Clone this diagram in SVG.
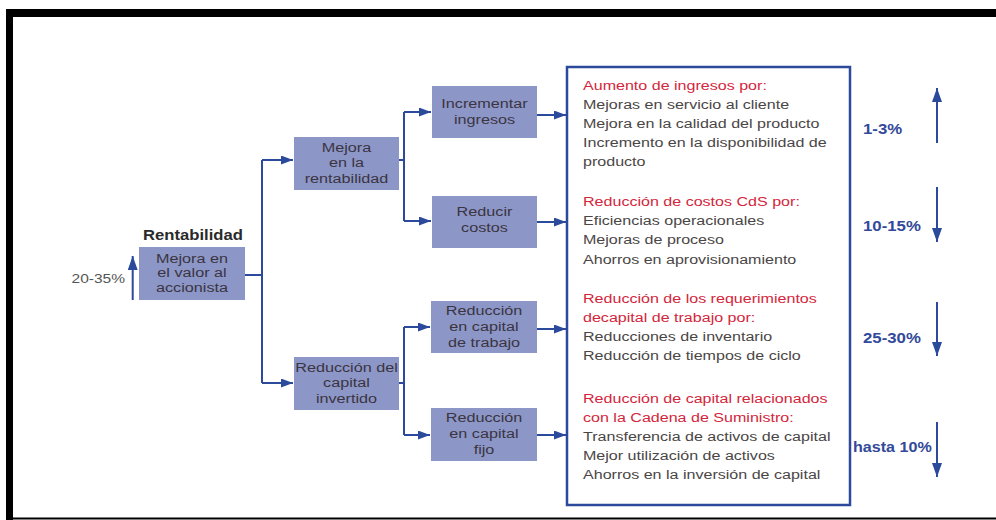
<svg xmlns="http://www.w3.org/2000/svg" width="996" height="520" viewBox="0 0 996 520">
<defs>
<style>
.frame{fill:#000}
.node rect{fill:#8c97c7}
.nt{font-family:"Liberation Sans",Arial,sans-serif;font-size:13.5px;fill:#3b3442;text-anchor:middle}
.conn{stroke:#2c4a9c;stroke-width:2;fill:none}
.bt{font-family:"Liberation Sans",Arial,sans-serif;font-size:13.5px;fill:#4a4646}
.red{fill:#d3263c}
.pct{font-family:"Liberation Sans",Arial,sans-serif;font-size:14px;font-weight:bold;fill:#33499a}
.lbl{font-family:"Liberation Sans",Arial,sans-serif;font-size:13.5px;fill:#555}
.title{font-family:"Liberation Sans",Arial,sans-serif;font-size:14px;font-weight:bold;fill:#2a2a2a}
</style>
<marker id="ah" markerUnits="userSpaceOnUse" markerWidth="12" markerHeight="10" refX="12" refY="4.5" orient="auto">
<path d="M0,0 L12,4.5 L0,9 z" fill="#2c4a9c"/>
</marker>
<marker id="ahv" markerUnits="userSpaceOnUse" markerWidth="14" markerHeight="11" refX="14" refY="5" orient="auto">
<path d="M0,0 L14,5 L0,10 z" fill="#2c4a9c"/>
</marker>
</defs>
<rect width="996" height="520" fill="#fff"/>
<g id="frame">
<rect class="frame" x="6" y="9" width="990" height="8"/>
<rect class="frame" x="6" y="9" width="7" height="511"/>
<rect class="frame" x="6" y="517.5" width="990" height="2"/>
</g>

<g id="connectors">
<path class="conn" d="M245,275 H262 M262,160 V383"/>
<path class="conn" d="M262,160 H293" marker-end="url(#ah)"/>
<path class="conn" d="M262,383 H293" marker-end="url(#ah)"/>
<path class="conn" d="M399,160 H404 M404,112 V221"/>
<path class="conn" d="M404,112 H431" marker-end="url(#ah)"/>
<path class="conn" d="M404,221 H431" marker-end="url(#ah)"/>
<path class="conn" d="M399,383 H404 M404,327 V435"/>
<path class="conn" d="M404,327 H430" marker-end="url(#ah)"/>
<path class="conn" d="M404,435 H430" marker-end="url(#ah)"/>
<path class="conn" d="M537,115 H566" marker-end="url(#ah)"/>
<path class="conn" d="M537,222 H566" marker-end="url(#ah)"/>
<path class="conn" d="M537,329 H566" marker-end="url(#ah)"/>
<path class="conn" d="M537,435 H566" marker-end="url(#ah)"/>
<path class="conn" d="M132.7,300 V256" marker-end="url(#ahv)"/>
<path class="conn" d="M937,143 V88" marker-end="url(#ahv)"/>
<path class="conn" d="M937,187 V242" marker-end="url(#ahv)"/>
<path class="conn" d="M937,302 V356" marker-end="url(#ahv)"/>
<path class="conn" d="M937,422 V477" marker-end="url(#ahv)"/>
</g>

<g id="root" class="node">
<text class="title" transform="translate(193,0) scale(1.19,1)" text-anchor="middle" y="240.5">Rentabilidad</text>
<rect x="139" y="247" width="106" height="53"/>
<text class="nt" transform="translate(192,0) scale(1.2,1)"><tspan x="0" y="263">Mejora en</tspan><tspan x="0" y="277.5">el valor al</tspan><tspan x="0" y="292">accionista</tspan></text>
<text class="lbl" transform="translate(125,0) scale(1.15,1)" text-anchor="end" y="283">20-35%</text>
</g>

<g id="mejora-rentabilidad" class="node">
<rect x="294" y="137" width="105" height="53"/>
<text class="nt" transform="translate(346.5,0) scale(1.2,1)"><tspan x="0" y="152">Mejora</tspan><tspan x="0" y="167.5">en la</tspan><tspan x="0" y="183">rentabilidad</tspan></text>
</g>

<g id="reduccion-capital-invertido" class="node">
<rect x="294" y="357" width="105" height="53"/>
<text class="nt" transform="translate(346.5,0) scale(1.2,1)"><tspan x="0" y="372">Reducción del</tspan><tspan x="0" y="387.5">capital</tspan><tspan x="0" y="403">invertido</tspan></text>
</g>

<g id="incrementar-ingresos" class="node">
<rect x="432" y="86" width="105" height="52"/>
<text class="nt" transform="translate(484.5,0) scale(1.2,1)"><tspan x="0" y="108">Incrementar</tspan><tspan x="0" y="124">ingresos</tspan></text>
</g>

<g id="reducir-costos" class="node">
<rect x="432" y="196" width="105" height="52"/>
<text class="nt" transform="translate(484.5,0) scale(1.2,1)"><tspan x="0" y="216.5">Reducir</tspan><tspan x="0" y="232">costos</tspan></text>
</g>

<g id="reduccion-capital-trabajo" class="node">
<rect x="431" y="301" width="106" height="52"/>
<text class="nt" transform="translate(484,0) scale(1.2,1)"><tspan x="0" y="315">Reducción</tspan><tspan x="0" y="331">en capital</tspan><tspan x="0" y="347">de trabajo</tspan></text>
</g>

<g id="reduccion-capital-fijo" class="node">
<rect x="431" y="408" width="106" height="53"/>
<text class="nt" transform="translate(484,0) scale(1.2,1)"><tspan x="0" y="422">Reducción</tspan><tspan x="0" y="438.5">en capital</tspan><tspan x="0" y="454.5">fijo</tspan></text>
</g>

<g id="detalle">
<rect x="567" y="67" width="283" height="438" fill="#fff" stroke="#2c4a9c" stroke-width="2.5"/>
<text class="bt" transform="translate(583,0) scale(1.19,1)">
<tspan class="red" x="0" y="90">Aumento de ingresos por:</tspan>
<tspan x="0" y="109">Mejoras en servicio al cliente</tspan>
<tspan x="0" y="128">Mejora en la calidad del producto</tspan>
<tspan x="0" y="147">Incremento en la disponibilidad de</tspan>
<tspan x="0" y="166">producto</tspan>
<tspan class="red" x="0" y="206">Reducción de costos CdS por:</tspan>
<tspan x="0" y="225">Eficiencias operacionales</tspan>
<tspan x="0" y="244.5">Mejoras de proceso</tspan>
<tspan x="0" y="264">Ahorros en aprovisionamiento</tspan>
<tspan class="red" x="0" y="303">Reducción de los requerimientos</tspan>
<tspan class="red" x="0" y="322.5">decapital de trabajo por:</tspan>
<tspan x="0" y="341">Reducciones de inventario</tspan>
<tspan x="0" y="360.5">Reducción de tiempos de ciclo</tspan>
<tspan class="red" x="0" y="403">Reducción de capital relacionados</tspan>
<tspan class="red" x="0" y="422">con la Cadena de Suministro:</tspan>
<tspan x="0" y="441">Transferencia de activos de capital</tspan>
<tspan x="0" y="460">Mejor utilización de activos</tspan>
<tspan x="0" y="479">Ahorros en la inversión de capital</tspan>
</text>
</g>

<g id="porcentajes">
<text class="pct" transform="translate(863,0) scale(1.2,1)" y="134">1-3%</text>
<text class="pct" transform="translate(863,0) scale(1.2,1)" y="231">10-15%</text>
<text class="pct" transform="translate(863,0) scale(1.2,1)" y="343">25-30%</text>
<text class="pct" transform="translate(853,0) scale(1.15,1)" y="452">hasta 10%</text>
</g>
</svg>
